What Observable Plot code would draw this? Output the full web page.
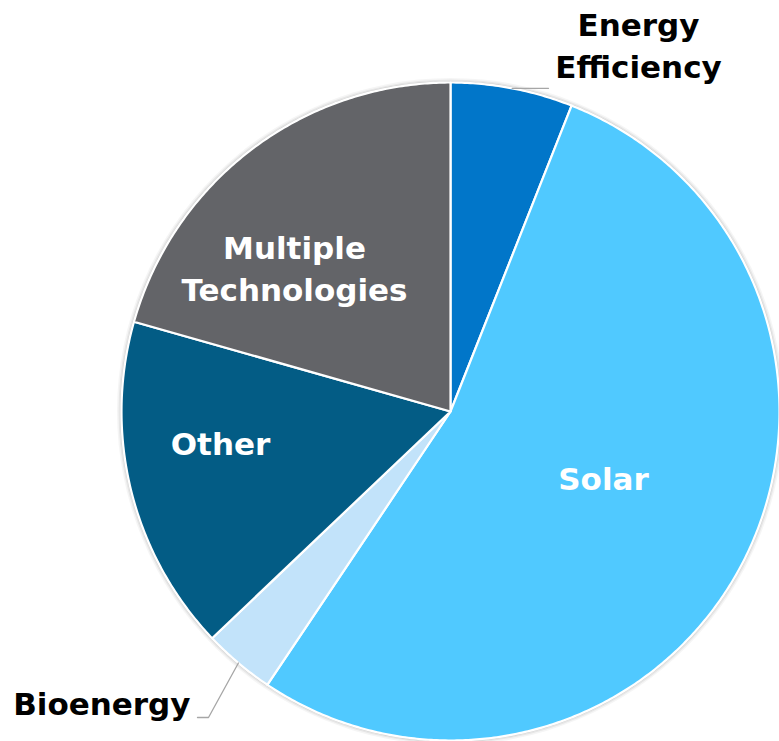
<!DOCTYPE html>
<html>
<head>
<meta charset="utf-8">
<script src="https://cdn.jsdelivr.net/npm/d3@7"></script>
<script src="https://cdn.jsdelivr.net/npm/@observablehq/plot@0.6"></script>
<style>
  html, body { margin: 0; padding: 0; background: #fff; }
  #chart { width: 779px; height: 741px; }
</style>
</head>
<body>
<div id="chart"></div>
<script>
// ---- data ----
const categories = ["Energy Efficiency", "Solar", "Bioenergy", "Other", "Multiple Technologies"];
const shares = [6.0, 53.4, 3.5, 16.5, 20.6];
const colors = ["#0176C9", "#50C9FF", "#C2E3FA", "#035C85", "#636468"];
const labelLines = ["Energy\nEfficiency", "Solar", "Bioenergy", "Other", "Multiple\nTechnologies"];
const labelInside = [false, true, false, true, true];

// ---- layout ----
const W = 779, H = 741, CX = 450, CY = 411, R = 329;
const labelPos = {
  "Energy Efficiency": [(638 - CX) / R, (CY - 43) / R, "middle"],
  "Solar": [(603 - CX) / R, (CY - 476) / R, "middle"],
  "Bioenergy": [(190 - CX) / R, (CY - 705) / R, "end"],
  "Other": [(220 - CX) / R, (CY - 441) / R, "middle"],
  "Multiple Technologies": [(294 - CX) / R, (CY - 266) / R, "middle"]
};

const table = categories.map((c, i) => ({cat: c, value: shares[i], color: colors[i], label: labelLines[i], inside: labelInside[i]}));
const arcs = d3.pie().sort(null).value(d => d.value)(table);

// slice polygons (centre + arc outline) from the pie angles
const slicePts = [];
for (const a of arcs) {
  slicePts.push({cat: a.data.cat, x: 0, y: 0});
  const n = Math.max(2, Math.ceil((a.endAngle - a.startAngle) / (Math.PI / 360)));
  for (let k = 0; k <= n; k++) {
    const t = a.startAngle + (a.endAngle - a.startAngle) * k / n;
    slicePts.push({cat: a.data.cat, x: Math.sin(t), y: Math.cos(t)});
  }
}

// leader lines for outside labels
const leaders = [];
for (const a of arcs) {
  if (a.data.inside) continue;
  const m = (a.startAngle + a.endAngle) / 2;
  const ex = Math.sin(m), ey = Math.cos(m);
  if (a.data.cat === "Energy Efficiency") {
    leaders.push({cat: a.data.cat, x: ex, y: ey});
    leaders.push({cat: a.data.cat, x: (548 - CX) / R, y: ey});
  } else {
    leaders.push({cat: a.data.cat, x: ex, y: ey});
    leaders.push({cat: a.data.cat, x: (208 - CX) / R, y: (CY - 717) / R});
    leaders.push({cat: a.data.cat, x: (197 - CX) / R, y: (CY - 717) / R});
  }
}

const labels = table.map(d => ({...d, lx: labelPos[d.cat][0], ly: labelPos[d.cat][1], anchor: labelPos[d.cat][2]}));
const centre = [{x: 0, y: 0}];

const font = {fontSize: 31, fontWeight: "bold", fontFamily: "DejaVu Sans"};

const plot = Plot.plot({
  width: W,
  height: H,
  margin: 0,
  x: {domain: [-CX / R, (W - CX) / R], axis: null},
  y: {domain: [(CY - H) / R, CY / R], axis: null},
  color: {domain: categories, range: colors},
  style: {background: "white"},
  marks: [
    // soft shadow around the pie
    Plot.dot(centre, {x: "x", y: "y", r: R + 4.5, fill: "black", fillOpacity: 0.04, stroke: "none"}),
    Plot.dot(centre, {x: "x", y: "y", r: R + 3, fill: "black", fillOpacity: 0.06, stroke: "none"}),
    Plot.dot(centre, {x: "x", y: "y", r: R + 1.5, fill: "black", fillOpacity: 0.1, stroke: "none"}),
    Plot.line(slicePts, {
      x: "x", y: "y", z: "cat", fill: "cat",
      stroke: "white", strokeWidth: 2.2, strokeLinejoin: "round",
      curve: "linear-closed"
    }),
    Plot.line(leaders, {x: "x", y: "y", z: "cat", stroke: "#a6a6a6", strokeWidth: 1.3}),
    Plot.text(labels.filter(d => d.inside), {
      x: "lx", y: "ly", text: "label", fill: "white", ...font,
      lineHeight: 1.36, textAnchor: "middle"
    }),
    Plot.text(labels.filter(d => !d.inside && d.anchor === "middle"), {
      x: "lx", y: "ly", text: "label", fill: "black", ...font,
      lineHeight: 1.36, textAnchor: "middle"
    }),
    Plot.text(labels.filter(d => !d.inside && d.anchor === "end"), {
      x: "lx", y: "ly", text: "label", fill: "black", ...font,
      textAnchor: "end"
    })
  ]
});
document.getElementById("chart").appendChild(plot);
</script>
</body>
</html>
